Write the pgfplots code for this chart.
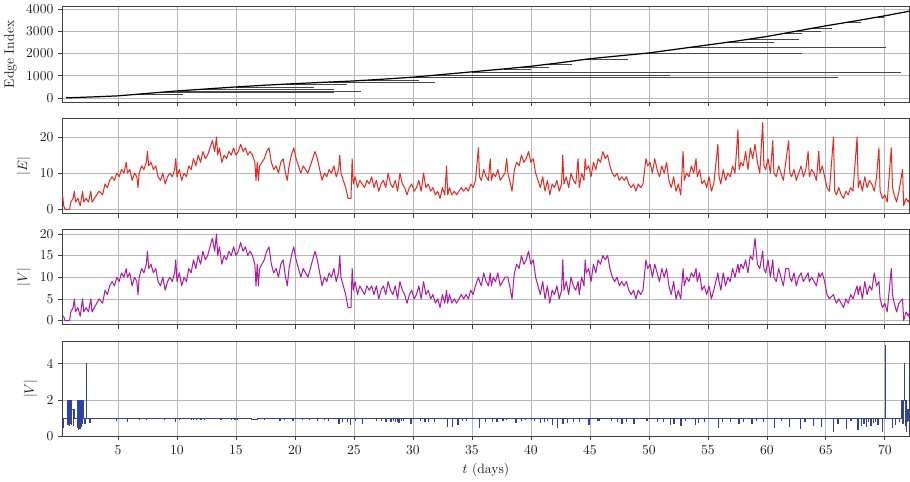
\documentclass[border=0pt]{standalone}
\usepackage{pgfplots}
\pgfplotsset{compat=1.18}
\definecolor{cred}{RGB}{226,44,36}
\definecolor{cpur}{RGB}{172,28,160}
\definecolor{cblue}{RGB}{48,66,162}
\pgfplotsset{
  panel/.style={
    scale only axis, width=622pt, height=70pt,
    xmin=0.28, xmax=72.1,
    xtick={5,10,...,70},
    grid=major, major grid style={black!28, line width=0.5pt},
    axis line style={black!75, line width=0.6pt},
    tick align=outside, tick pos=left,
    major tick length=3pt,
    tick style={black!75, line width=0.5pt},
    ticklabel style={text=black!88},
    label style={text=black!88},
    clip=true,
  },
  seg/.style={black!72, line width=0.45pt, forget plot},
}
\begin{document}
\begin{tikzpicture}
% ---------------- Panel 1: Edge index
\begin{axis}[panel, at={(0pt,0pt)}, anchor=north west,
  ymin=-195, ymax=4095, ytick={0,1000,2000,3000,4000},
  xticklabels={}, ylabel={Edge Index}, scaled y ticks=false,
  yticklabel style={/pgf/number format/fixed, /pgf/number format/1000 sep={}}]
\addplot[seg] coordinates {(6.6,160) (10.5,160)};
\addplot[seg] coordinates {(8.4,240) (23.3,240)};
\addplot[seg] coordinates {(10,310) (25.6,310)};
\addplot[seg] coordinates {(12.1,385) (23.3,385)};
\addplot[seg] coordinates {(15,490) (21.6,490)};
\addplot[seg] coordinates {(19,610) (24.4,610)};
\addplot[seg] coordinates {(22.9,710) (31.9,710)};
\addplot[seg] coordinates {(26.2,800) (30.5,800)};
\addplot[seg] coordinates {(29.7,920) (66,920)};
\addplot[seg] coordinates {(31.9,1020) (51.8,1020)};
\addplot[seg] coordinates {(35,1170) (71.4,1170)};
\addplot[seg] coordinates {(37.7,1300) (40,1300)};
\addplot[seg] coordinates {(39,1360) (41.5,1360)};
\addplot[seg] coordinates {(41.2,1500) (43.5,1500)};
\addplot[seg] coordinates {(44.4,1720) (48.2,1720)};
\addplot[seg] coordinates {(49.8,2010) (63,2010)};
\addplot[seg] coordinates {(53.5,2270) (70.1,2270)};
\addplot[seg] coordinates {(56.4,2490) (60.6,2490)};
\addplot[seg] coordinates {(58.4,2640) (62.7,2640)};
\addplot[seg] coordinates {(61.5,2900) (63,2900)};
\addplot[seg] coordinates {(62.6,3010) (64.6,3010)};
\addplot[seg] coordinates {(63.9,3130) (65.5,3130)};
\addplot[seg] coordinates {(66.8,3400) (68,3400)};
\addplot[seg] coordinates {(69.4,3640) (69.9,3640)};
\addplot[black, line width=0.9pt] coordinates {
(0.6,0) (2,25) (3.5,55) (5,90) (7.5,200) (10,310) (12.5,400) (15,490)
(17.5,570) (20,640) (22.5,700) (25,760) (27.5,840) (30,930) (32.5,1050)
(35,1170) (37.5,1290) (40,1420) (42.5,1580) (45,1760) (47.5,1890)
(50,2020) (52.5,2200) (55,2380) (57.5,2560) (60,2760) (62.5,3000)
(65,3240) (67.5,3460) (70,3690) (72.1,3900)};
\end{axis}
% ---------------- Panel 2: |E|
\begin{axis}[panel, at={(0pt,-81.8pt)}, anchor=north west,
  ymin=-1.2, ymax=25.2, ytick={0,10,20},
  xticklabels={}, ylabel={$|E|$}]
\addplot[sharp plot, cred, line width=0.75pt, line join=round] coordinates {
(0.3,4)(0.4,1)(0.5,0)(0.9,0)(1.0,2)(1.2,3)(1.3,5)(1.4,2)(1.6,3)(1.8,1)(2.0,5)(2.1,2)(2.3,3)(2.5,2)(2.7,5)(2.8,2)(3.0,3)(3.2,4)(3.4,5)(3.7,4)(3.9,7)(4.1,6)(4.3,8)(4.5,9)(4.7,8)(4.9,10)
(5.1,9)(5.3,11)(5.5,10)(5.7,13)(5.8,10)(6.0,11)(6.2,8)(6.4,10)(6.6,9)(6.7,6)(6.8,10)(7.0,12)(7.2,11)(7.4,13)(7.5,16)(7.6,12)(7.8,13)(8.0,11)(8.2,12)(8.4,9)(8.6,8)(8.8,10)(9.0,7)(9.2,9)(9.4,10)(9.6,9)(9.8,11)(9.9,14)
(10.0,9)(10.2,11)(10.4,8)(10.6,10)(10.8,9)(11.0,12)(11.2,11)(11.4,14)(11.6,12)(11.8,15)(12.0,13)(12.2,16)(12.4,14)(12.6,15)(12.8,17)(13.0,19)(13.2,16)(13.35,20)(13.45,15)(13.6,17)(13.8,13)(14.0,15)(14.2,14)(14.4,16)(14.6,15)(14.8,17)
(15.0,15)(15.2,16)(15.4,18)(15.6,16)(15.8,17)(16.0,15)(16.2,16)(16.4,15)(16.6,13)(16.7,8)(16.8,13)(16.9,8)(17.0,12)(17.2,13)(17.4,14)(17.6,16)(17.8,17)(18.0,13)(18.2,11)(18.4,12)(18.6,10)(18.8,13)(19.0,14)(19.2,10)(19.35,8)(19.5,12)(19.7,15)(19.9,17)
(20.1,14)(20.3,12)(20.5,10)(20.7,12)(20.9,11)(21.1,10)(21.3,12)(21.5,14)(21.7,16)(21.9,14)(22.1,11)(22.3,8)(22.5,10)(22.7,9)(22.9,11)(23.1,10)(23.3,12)(23.5,9)(23.7,11)(23.8,15)(23.9,10)(24.1,8)(24.3,6)(24.5,3)(24.75,3)(24.85,14)(24.95,7)
(25.1,9)(25.3,6)(25.5,8)(25.7,7)(25.9,6)(26.1,8)(26.3,7)(26.5,9)(26.7,6)(26.9,8)(27.1,5)(27.3,7)(27.5,8)(27.7,6)(27.9,10)(28.1,7)(28.3,6)(28.5,8)(28.7,5)(28.9,10)(29.1,7)(29.3,6)(29.5,4)(29.7,6)(29.9,7)
(30.1,5)(30.3,6)(30.5,8)(30.7,5)(30.9,10)(31.1,6)(31.3,7)(31.5,5)(31.7,6)(31.9,4)(32.1,5)(32.3,3)(32.5,6)(32.7,4)(32.85,12)(32.95,4)(33.1,6)(33.3,4)(33.5,5)(33.7,4)(33.9,5)(34.1,6)(34.3,5)(34.5,6)(34.7,5)(34.9,7)
(35.1,6)(35.3,8)(35.55,17)(35.65,9)(35.8,8)(36.0,11)(36.2,9)(36.4,8)(36.55,14)(36.65,8)(36.8,10)(37.0,9)(37.2,11)(37.4,8)(37.6,9)(37.8,10)(37.95,14)(38.05,10)(38.2,8)(38.4,5)(38.6,11)(38.8,13)(39.0,12)(39.2,15)(39.4,13)(39.6,14)(39.8,16)
(40.0,13)(40.2,14)(40.4,10)(40.6,8)(40.8,6)(41.0,9)(41.2,5)(41.4,8)(41.6,4)(41.8,7)(42.0,6)(42.2,8)(42.4,5)(42.6,7)(42.7,15)(42.8,7)(43.0,9)(43.2,6)(43.4,10)(43.6,8)(43.8,7)(44.0,14)(44.1,6)(44.3,10)(44.5,8)(44.6,14)(44.7,11)(44.9,12)
(45.1,9)(45.3,13)(45.5,11)(45.7,14)(45.9,13)(46.1,16)(46.3,14)(46.5,15)(46.7,12)(46.9,10)(47.1,9)(47.3,10)(47.5,8)(47.7,9)(47.9,8)(48.1,9)(48.3,7)(48.5,6)(48.7,7)(48.9,5)(49.1,7)(49.3,6)(49.5,7)(49.75,14)(49.9,12)
(50.1,13)(50.3,10)(50.5,14)(50.7,11)(50.9,9)(51.1,12)(51.3,10)(51.5,13)(51.7,8)(51.9,6)(52.1,9)(52.3,5)(52.5,7)(52.7,4)(52.9,16)(53.0,8)(53.2,10)(53.4,9)(53.6,12)(53.8,10)(54.0,14)(54.1,9)(54.3,11)(54.5,7)(54.7,8)(54.9,6)
(55.1,9)(55.3,5)(55.5,7)(55.85,18)(55.95,9)(56.1,7)(56.3,11)(56.5,8)(56.7,10)(56.9,9)(57.1,12)(57.3,10)(57.55,22)(57.65,11)(57.8,13)(58.0,12)(58.2,16)(58.4,11)(58.6,17)(58.8,14)(59.0,18)(59.2,13)(59.4,10)(59.65,24)(59.75,12)(59.9,11)
(60.1,14)(60.3,10)(60.5,19)(60.6,10)(60.8,9)(61.0,12)(61.2,10)(61.4,8)(61.6,13)(61.85,19)(61.95,10)(62.1,9)(62.3,11)(62.5,8)(62.7,10)(62.9,12)(63.1,9)(63.3,11)(63.5,16)(63.6,9)(63.8,11)(64.0,10)(64.2,8)(64.4,16)(64.5,10)(64.7,12)(64.9,9)
(65.1,6)(65.3,5)(65.65,20)(65.75,5)(65.9,4)(66.1,6)(66.3,4)(66.5,3)(66.7,5)(66.9,4)(67.1,6)(67.3,5)(67.65,20)(67.75,6)(67.9,8)(68.1,5)(68.3,9)(68.5,6)(68.7,8)(68.9,7)(69.1,5)(69.3,9)(69.5,17)(69.6,5)(69.8,3)
(70.0,4)(70.2,2)(70.55,17)(70.65,6)(70.8,4)(71.0,2)(71.2,5)(71.5,11)(71.6,1)(71.8,3)(72.0,2)(72.1,3)};
\end{axis}
% ---------------- Panel 3: |V|
\begin{axis}[panel, at={(0pt,-163.5pt)}, anchor=north west,
  ymin=-1, ymax=21, ytick={0,5,10,15,20},
  xticklabels={}, ylabel={$|V|$}]
\addplot[sharp plot, cpur, line width=0.75pt, line join=round] coordinates {
(0.3,1)(0.4,1)(0.5,0)(0.9,0)(1.0,2)(1.2,3)(1.3,5)(1.4,2)(1.6,3)(1.8,1)(2.0,5)(2.1,2)(2.3,3)(2.5,2)(2.7,5)(2.8,2)(3.0,3)(3.2,4)(3.4,5)(3.7,4)(3.9,7)(4.1,6)(4.3,8)(4.5,9)(4.7,8)(4.9,10)
(5.1,9)(5.3,11)(5.5,10)(5.7,12)(5.8,10)(6.0,11)(6.2,8)(6.4,10)(6.6,9)(6.7,6)(6.8,10)(7.0,12)(7.2,11)(7.4,13)(7.5,16)(7.6,12)(7.8,13)(8.0,11)(8.2,12)(8.4,9)(8.6,8)(8.8,10)(9.0,7)(9.2,9)(9.4,10)(9.6,9)(9.8,11)(9.9,14)
(10.0,9)(10.2,11)(10.4,8)(10.6,10)(10.8,9)(11.0,12)(11.2,11)(11.4,14)(11.6,12)(11.8,15)(12.0,13)(12.2,16)(12.4,14)(12.6,15)(12.8,17)(13.0,19)(13.2,16)(13.35,20)(13.45,15)(13.6,17)(13.8,13)(14.0,15)(14.2,14)(14.4,16)(14.6,15)(14.8,17)
(15.0,15)(15.2,16)(15.4,18)(15.6,16)(15.8,17)(16.0,15)(16.2,16)(16.4,15)(16.6,13)(16.7,8)(16.8,13)(16.9,8)(17.0,12)(17.2,13)(17.4,14)(17.6,16)(17.8,17)(18.0,13)(18.2,11)(18.4,12)(18.6,10)(18.8,13)(19.0,14)(19.2,10)(19.35,8)(19.5,12)(19.7,15)(19.9,17)
(20.1,14)(20.3,12)(20.5,10)(20.7,12)(20.9,11)(21.1,10)(21.3,12)(21.5,14)(21.7,16)(21.9,14)(22.1,11)(22.3,8)(22.5,10)(22.7,9)(22.9,11)(23.1,10)(23.3,12)(23.5,9)(23.7,11)(23.8,15)(23.9,10)(24.1,8)(24.3,6)(24.5,3)(24.75,3)(24.85,12)(24.95,7)
(25.1,9)(25.3,6)(25.5,8)(25.7,7)(25.9,6)(26.1,8)(26.3,7)(26.5,8)(26.7,6)(26.9,8)(27.1,5)(27.3,7)(27.5,8)(27.7,6)(27.9,9)(28.1,7)(28.3,6)(28.5,8)(28.7,5)(28.9,9)(29.1,7)(29.3,6)(29.5,4)(29.7,6)(29.9,7)
(30.1,5)(30.3,6)(30.5,8)(30.7,5)(30.9,9)(31.1,6)(31.3,7)(31.5,5)(31.7,6)(31.9,4)(32.1,5)(32.3,3)(32.5,6)(32.7,4)(32.85,7)(32.95,4)(33.1,6)(33.3,4)(33.5,5)(33.7,4)(33.9,5)(34.1,6)(34.3,5)(34.5,6)(34.7,5)(34.9,7)
(35.1,6)(35.3,8)(35.55,10)(35.65,9)(35.8,8)(36.0,11)(36.2,9)(36.4,8)(36.55,11)(36.65,8)(36.8,10)(37.0,9)(37.2,11)(37.4,8)(37.6,9)(37.8,10)(37.95,10)(38.05,10)(38.2,8)(38.4,5)(38.6,11)(38.8,13)(39.0,12)(39.2,15)(39.4,13)(39.6,14)(39.8,16)
(40.0,13)(40.2,14)(40.4,10)(40.6,8)(40.8,6)(41.0,9)(41.2,5)(41.4,8)(41.6,4)(41.8,7)(42.0,6)(42.2,8)(42.4,5)(42.6,7)(42.7,14)(42.8,7)(43.0,9)(43.2,6)(43.4,10)(43.6,8)(43.8,7)(44.0,9)(44.1,6)(44.3,10)(44.5,8)(44.6,14)(44.7,11)(44.9,12)
(45.1,9)(45.3,13)(45.5,11)(45.7,14)(45.9,13)(46.1,15)(46.3,14)(46.5,15)(46.7,12)(46.9,10)(47.1,9)(47.3,10)(47.5,8)(47.7,9)(47.9,8)(48.1,9)(48.3,7)(48.5,6)(48.7,7)(48.9,5)(49.1,7)(49.3,6)(49.5,7)(49.75,14)(49.9,12)
(50.1,13)(50.3,10)(50.5,13)(50.7,11)(50.9,9)(51.1,12)(51.3,10)(51.5,12)(51.7,8)(51.9,6)(52.1,9)(52.3,5)(52.5,7)(52.7,5)(52.9,12)(53.0,8)(53.2,10)(53.4,9)(53.6,11)(53.8,10)(54.0,12)(54.1,9)(54.3,11)(54.5,7)(54.7,8)(54.9,6)
(55.1,8)(55.3,5)(55.5,7)(55.85,11)(55.95,9)(56.1,7)(56.3,11)(56.5,8)(56.7,10)(56.9,9)(57.1,12)(57.3,10)(57.55,13)(57.65,11)(57.8,13)(58.0,12)(58.2,14)(58.4,11)(58.6,15)(58.8,14)(59.0,19)(59.2,13)(59.4,12)(59.65,16)(59.75,12)(59.9,11)
(60.1,14)(60.3,10)(60.5,14)(60.6,10)(60.8,9)(61.0,12)(61.2,10)(61.4,8)(61.6,12)(61.85,12)(61.95,10)(62.1,9)(62.3,11)(62.5,8)(62.7,10)(62.9,11)(63.1,9)(63.3,10)(63.5,11)(63.6,9)(63.8,10)(64.0,9)(64.2,8)(64.4,11)(64.5,10)(64.7,11)(64.9,9)
(65.1,6)(65.3,5)(65.65,6)(65.75,5)(65.9,4)(66.1,5)(66.3,4)(66.5,3)(66.7,5)(66.9,4)(67.1,6)(67.3,5)(67.65,8)(67.75,6)(67.9,8)(68.1,5)(68.3,9)(68.5,6)(68.7,8)(68.9,7)(69.1,11)(69.3,8)(69.5,9)(69.6,5)(69.8,3)
(70.0,4)(70.2,2)(70.55,12)(70.65,6)(70.8,4)(71.0,2)(71.2,4)(71.5,5)(71.6,0)(71.8,2)(72.0,1)(72.1,2)};
\end{axis}
% ---------------- Panel 4: ratio
\begin{axis}[panel, at={(0pt,-245.3pt)}, anchor=north west,
  ymin=0, ymax=5.25, ytick={0,2,4},
  ylabel={$|V|$}, xlabel={$t$ (days)}]
\addplot[const plot, cblue, line width=0.5pt] coordinates {
(0.30,0.5)(0.36,1)(0.72,2)(0.75,0.65)(0.78,2)(0.82,0.7)(0.85,2)(0.88,0.6)(0.91,2)(0.95,0.7)(0.98,2)(1.02,0.65)(1.06,1.5)(1.18,0.6)(1.21,1.5)(1.34,1)
(1.55,2)(1.58,0.5)(1.61,2)(1.64,0.4)(1.67,2)(1.70,0.6)(1.73,2)(1.76,0.45)(1.79,2)(1.82,0.7)(1.85,2)(1.88,0.55)(1.91,2)(1.94,0.7)(1.97,2)(2.04,1)
(2.18,0.7)(2.21,1)(2.32,4)(2.35,1)(2.60,0.75)(2.63,1)
(4.86,0.88)(4.89,1)(5.8,0.85)(5.83,1)(6.8,0.95)(6.83,1)(7.4,0.93)(7.43,1)(8.9,0.93)(8.93,1)(9.85,0.8)(9.88,1)(10.2,0.93)(10.23,1)
(11.2,0.93)(11.23,1)(11.35,0.92)(11.38,1)(11.6,0.93)(11.63,1)(12.0,0.93)(12.03,1)(12.3,0.92)(12.33,1)(13.7,0.95)(13.73,1)
(14.6,0.93)(14.63,1)(14.9,0.93)(14.93,1)(15.1,0.92)(15.13,1)(16.3,0.93)(16.8,1)(17.4,0.93)(17.43,1)(18.7,0.88)(18.73,1)(19.1,0.93)(19.13,1)(19.8,0.88)(19.83,1)
(20.6,0.93)(20.63,1)(21.2,0.93)(21.23,1)(21.9,0.9)(21.93,1)(22.5,0.93)(22.53,1)(22.8,0.9)(22.83,1)(23.7,0.7)(23.73,1)(24.0,0.85)(24.03,1)(24.4,0.85)(24.43,1)(24.7,0.65)(24.73,1)
(25.1,0.9)(25.13,1)(25.7,0.7)(25.73,1)(26.9,0.9)(26.93,1)(27.3,0.9)(27.33,1)(27.7,0.85)(27.73,1)(28.1,0.85)(28.13,1)(28.3,0.9)(28.33,1)(28.5,0.8)(28.53,1)(28.65,0.85)(28.68,1)(28.8,0.75)(28.83,1)(29.0,0.9)(29.03,1)(29.2,0.9)(29.23,1)(29.8,0.7)(29.83,1)
(30.6,0.9)(30.63,1)(31.0,0.85)(31.03,1)(31.3,0.8)(31.33,1)(31.8,0.85)(31.83,1)(32.9,0.55)(32.93,1)(33.3,0.55)(33.33,1)(33.8,0.65)(33.83,1)(34.2,0.9)(34.23,1)(34.5,0.9)(34.53,1)
(35.6,0.5)(35.63,1)(36.1,0.85)(36.13,1)(36.7,0.8)(36.73,1)(37.1,0.8)(37.13,1)(37.6,0.9)(37.63,1)(37.9,0.95)(37.93,1)(38.7,0.75)(38.73,1)(39.2,0.9)(39.23,1)(39.5,0.93)(39.53,1)
(40.0,0.93)(40.03,1)(40.3,0.9)(40.33,1)(40.8,0.75)(40.83,1)(41.1,0.8)(41.13,1)(41.4,0.9)(41.43,1)(41.8,0.65)(41.83,1)(42.25,0.5)(42.28,1)(42.7,0.7)(42.73,1)(43.1,0.75)(43.13,1)(43.6,0.8)(43.63,1)(44.1,0.85)(44.13,1)(44.9,0.65)(44.93,1)
(45.6,0.9)(45.63,1)(45.75,0.9)(45.78,1)(46.8,0.9)(46.83,1)(47.3,0.85)(47.33,1)(47.7,0.7)(47.73,1)(48.1,0.8)(48.13,1)(48.7,0.7)(48.73,1)(49.8,0.9)(49.83,1)
(50.7,0.8)(50.73,1)(51.2,0.8)(51.23,1)(51.8,0.65)(51.83,1)(52.1,0.7)(52.13,1)(52.7,0.6)(52.73,1)(53.1,0.9)(53.13,1)(53.9,0.65)(53.93,1)(54.2,0.75)(54.23,1)(54.7,0.8)(54.73,1)
(55.9,0.5)(55.93,1)(56.2,0.8)(56.23,1)(56.9,0.85)(56.93,1)(57.6,0.7)(57.63,1)(58.0,0.8)(58.03,1)(58.7,0.7)(58.73,1)(59.1,0.9)(59.13,1)(59.7,0.8)(59.73,1)
(60.6,0.5)(60.63,1)(61.2,0.9)(61.23,1)(61.9,0.55)(61.93,1)(62.8,0.45)(62.83,1)(63.2,0.8)(63.23,1)(63.9,0.6)(63.93,1)(64.6,0.55)(64.63,1)
(65.6,0.3)(65.63,1)(66.0,0.7)(66.03,1)(66.7,0.45)(66.73,1)(67.1,0.9)(67.13,1)(67.7,0.4)(67.73,1)(68.0,0.6)(68.03,1)(68.2,0.7)(68.23,1)(68.4,0.55)(68.43,1)(68.6,0.8)(68.63,1)(68.8,0.6)(68.83,1)(69.0,0.75)(69.03,1)(69.2,0.85)(69.23,1)(69.4,0.65)(69.43,1)(69.8,0.3)(69.83,1)
(70.03,5)(70.07,1)(70.6,0.5)(70.63,1)(70.9,0.65)(70.93,1)(71.2,0.8)(71.23,1)
(71.4,2)(71.5,0.7)(71.53,2)(71.62,4)(71.66,2)(71.75,0.6)(71.78,2)(71.82,0.25)(71.85,1.5)(71.88,0.8)(71.91,1.5)(71.95,0.9)(71.98,1.5)(72.1,1.5)};
\end{axis}
\end{tikzpicture}
\end{document}
